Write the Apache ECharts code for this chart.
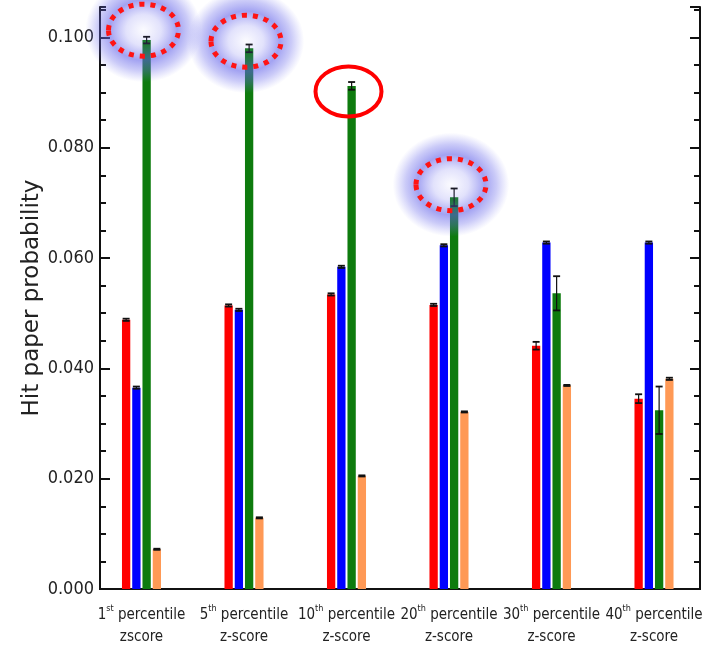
<!DOCTYPE html>
<html><head><meta charset="utf-8">
<script src="https://cdn.jsdelivr.net/npm/echarts@6/dist/echarts.min.js"></script>
<style>html,body{margin:0;padding:0;background:#fff}#c{width:713px;height:649px}</style>
</head><body><div id="c"></div>
<script>
// ---- data ----
const catNum = ['1', '5', '10', '20', '30', '40'];
const catSup = ['st', 'th', 'th', 'th', 'th', 'th'];
const catLine2 = ['zscore', 'z-score', 'z-score', 'z-score', 'z-score', 'z-score'];
const categories = catNum.map((n, i) => n + catSup[i] + ' percentile ' + catLine2[i]);

const redVals    = [0.0488, 0.0514, 0.0534, 0.0515, 0.0441, 0.0345];
const redErr     = [0.0002, 0.0002, 0.0002, 0.0002, 0.0007, 0.0008];
const blueVals   = [0.0365, 0.0506, 0.0584, 0.0623, 0.0628, 0.0628];
const blueErr    = [0.0002, 0.0002, 0.0002, 0.0002, 0.0002, 0.0002];
const greenVals  = [0.0995, 0.0980, 0.0912, 0.0710, 0.0536, 0.0324];
const greenErr   = [0.0006, 0.0007, 0.0007, 0.0016, 0.0031, 0.0043];
const orangeVals = [0.0072, 0.0129, 0.0205, 0.0321, 0.0369, 0.0381];
const orangeErr  = [0.0001, 0.0001, 0.0001, 0.0001, 0.0001, 0.0002];

const yMin = 0, yMax = 0.1055, yMajor = 0.02, yMinor = 0.005;
const yTitle = 'Hit paper probability';

// highlighted spots (category index, value at ellipse centre, style)
const highlightCats   = [0, 1, 2, 3];
const highlightVals   = [0.1013, 0.0993, 0.0902, 0.0733];
const highlightDotted = [true, true, false, true];

// ---- chart ----
const seriesDefs = [
  {name: 'red', vals: redVals, errs: redErr, color: '#ff0000'},
  {name: 'blue', vals: blueVals, errs: blueErr, color: '#0000ff'},
  {name: 'green', vals: greenVals, errs: greenErr, color: '#0e7b0e'},
  {name: 'orange', vals: orangeVals, errs: orangeErr, color: '#ff9955'}
];

function makeRender(k, color) {
  return function (params, api) {
    const idx = api.value(0), v = api.value(1), e = api.value(2);
    const band = api.size([1, 0])[0];
    const c0 = api.coord([idx, 0]);
    const cx = c0[0] + (k - 1.5) * band * 0.1;
    const w = band * 0.081;
    const top = api.coord([idx, v])[1];
    const eT = api.coord([idx, v + e])[1];
    const eB = api.coord([idx, v - e])[1];
    const cap = 3.5;
    return {
      type: 'group',
      children: [
        {type: 'rect', shape: {x: cx - w / 2, y: top, width: w, height: c0[1] - top},
         style: {fill: color}},
        {type: 'line', shape: {x1: cx, y1: eT, x2: cx, y2: eB},
         style: {stroke: '#111', lineWidth: 1.2}},
        {type: 'line', shape: {x1: cx - cap, y1: eT, x2: cx + cap, y2: eT},
         style: {stroke: '#111', lineWidth: 1.8}},
        {type: 'line', shape: {x1: cx - cap, y1: eB, x2: cx + cap, y2: eB},
         style: {stroke: '#111', lineWidth: 1.8}}
      ]
    };
  };
}

const frameLine = {show: true, lineStyle: {color: '#111', width: 2}};
const labelFont = "'DejaVu Sans Condensed', 'Liberation Sans Narrow', sans-serif";

const option = {
  animation: false,
  backgroundColor: '#fff',
  grid: [
    {left: 100, right: 13, top: 7, bottom: 60},
    {left: 90.25, right: 7.75, top: 7, bottom: 60}
  ],
  xAxis: [
    {gridIndex: 0, type: 'value', min: 0, max: 1, position: 'bottom', axisLine: frameLine,
     axisTick: {show: false}, axisLabel: {show: false}, splitLine: {show: false}},
    {gridIndex: 0, type: 'value', min: 0, max: 1, position: 'top', axisLine: frameLine,
     axisTick: {show: false}, axisLabel: {show: false}, splitLine: {show: false}},
    {gridIndex: 1, type: 'category', data: categories, position: 'bottom',
     axisLine: {show: false}, axisTick: {show: false}, splitLine: {show: false},
     axisLabel: {
       interval: 0, margin: 15,
       formatter: function (val, i) {
         return '{n|' + catNum[i] + '}{s|' + catSup[i] + '}{n| percentile}\n{n|' + catLine2[i] + '}';
       },
       rich: {
         n: {fontFamily: labelFont, fontSize: 15, color: '#222', lineHeight: 22},
         s: {fontFamily: labelFont, fontSize: 9, color: '#222', lineHeight: 22, verticalAlign: 'top'}
       }
     }}
  ],
  yAxis: [
    {gridIndex: 0, type: 'value', position: 'left', min: yMin, max: yMax, interval: yMajor,
     axisLine: frameLine,
     axisTick: {show: true, inside: true, length: 10, lineStyle: {color: '#111', width: 2}},
     axisLabel: {show: true, margin: 6, fontFamily: labelFont, fontSize: 18, color: '#222',
       showMaxLabel: false,
       formatter: function (v) { return Math.abs(v / yMajor - Math.round(v / yMajor)) < 1e-6 ? v.toFixed(3) : ''; }},
     splitLine: {show: false}},
    {gridIndex: 0, type: 'value', position: 'left', min: yMin, max: yMax, interval: yMinor,
     axisLine: {show: false},
     axisTick: {show: true, inside: true, length: 6, lineStyle: {color: '#111', width: 2}},
     axisLabel: {show: false}, splitLine: {show: false}},
    {gridIndex: 0, type: 'value', position: 'right', min: yMin, max: yMax, interval: yMajor,
     axisLine: frameLine,
     axisTick: {show: true, inside: true, length: 10, lineStyle: {color: '#111', width: 2}},
     axisLabel: {show: false}, splitLine: {show: false}},
    {gridIndex: 0, type: 'value', position: 'right', min: yMin, max: yMax, interval: yMinor,
     axisLine: {show: false},
     axisTick: {show: true, inside: true, length: 6, lineStyle: {color: '#111', width: 2}},
     axisLabel: {show: false}, splitLine: {show: false}},
    {gridIndex: 1, type: 'value', min: yMin, max: yMax, show: false, splitLine: {show: false}}
  ],
  series: seriesDefs.map((s, k) => ({
    type: 'custom', name: s.name, xAxisIndex: 2, yAxisIndex: 4, z: 3,
    renderItem: makeRender(k, s.color),
    encode: {x: 0, y: 1},
    data: s.vals.map((v, i) => [i, v, s.errs[i]])
  }))
};

const chart = echarts.init(document.getElementById('c'), null, {renderer: 'canvas'});
chart.setOption(option);

const graphics = [{
  type: 'text', x: 32, y: 298, rotation: Math.PI / 2, z: 10,
  style: {text: yTitle, fontFamily: 'DejaVu Sans', fontSize: 23, fill: '#222',
          align: 'center', verticalAlign: 'middle'},
  silent: true
}];
highlightCats.forEach((ci, j) => {
  const p = chart.convertToPixel({xAxisIndex: 2, yAxisIndex: 4}, [ci, highlightVals[j]]);
  const x = p[0] + 2, y = p[1];
  if (highlightDotted[j]) {
    graphics.push({
      type: 'circle', x: x, y: y, scaleX: 1.12, z: 50,
      shape: {cx: 0, cy: 0, r: 52},
      style: {fill: {type: 'radial', x: 0.5, y: 0.5, r: 0.5, colorStops: [
        {offset: 0, color: 'rgba(120,120,240,0.03)'},
        {offset: 0.3, color: 'rgba(110,110,238,0.2)'},
        {offset: 0.58, color: 'rgba(95,95,232,0.58)'},
        {offset: 0.78, color: 'rgba(105,105,235,0.35)'},
        {offset: 1, color: 'rgba(120,120,240,0)'}
      ]}},
      silent: true
    });
    graphics.push({
      type: 'ellipse', z: 51,
      shape: {cx: x, cy: y, rx: 35, ry: 26},
      style: {fill: null, stroke: '#ff1414', lineWidth: 5, lineDash: [5, 6]},
      silent: true
    });
  } else {
    graphics.push({
      type: 'ellipse', z: 51,
      shape: {cx: x, cy: y, rx: 33, ry: 25},
      style: {fill: null, stroke: '#ff0000', lineWidth: 4},
      silent: true
    });
  }
});
chart.setOption({graphic: graphics});
</script>
</body></html>
